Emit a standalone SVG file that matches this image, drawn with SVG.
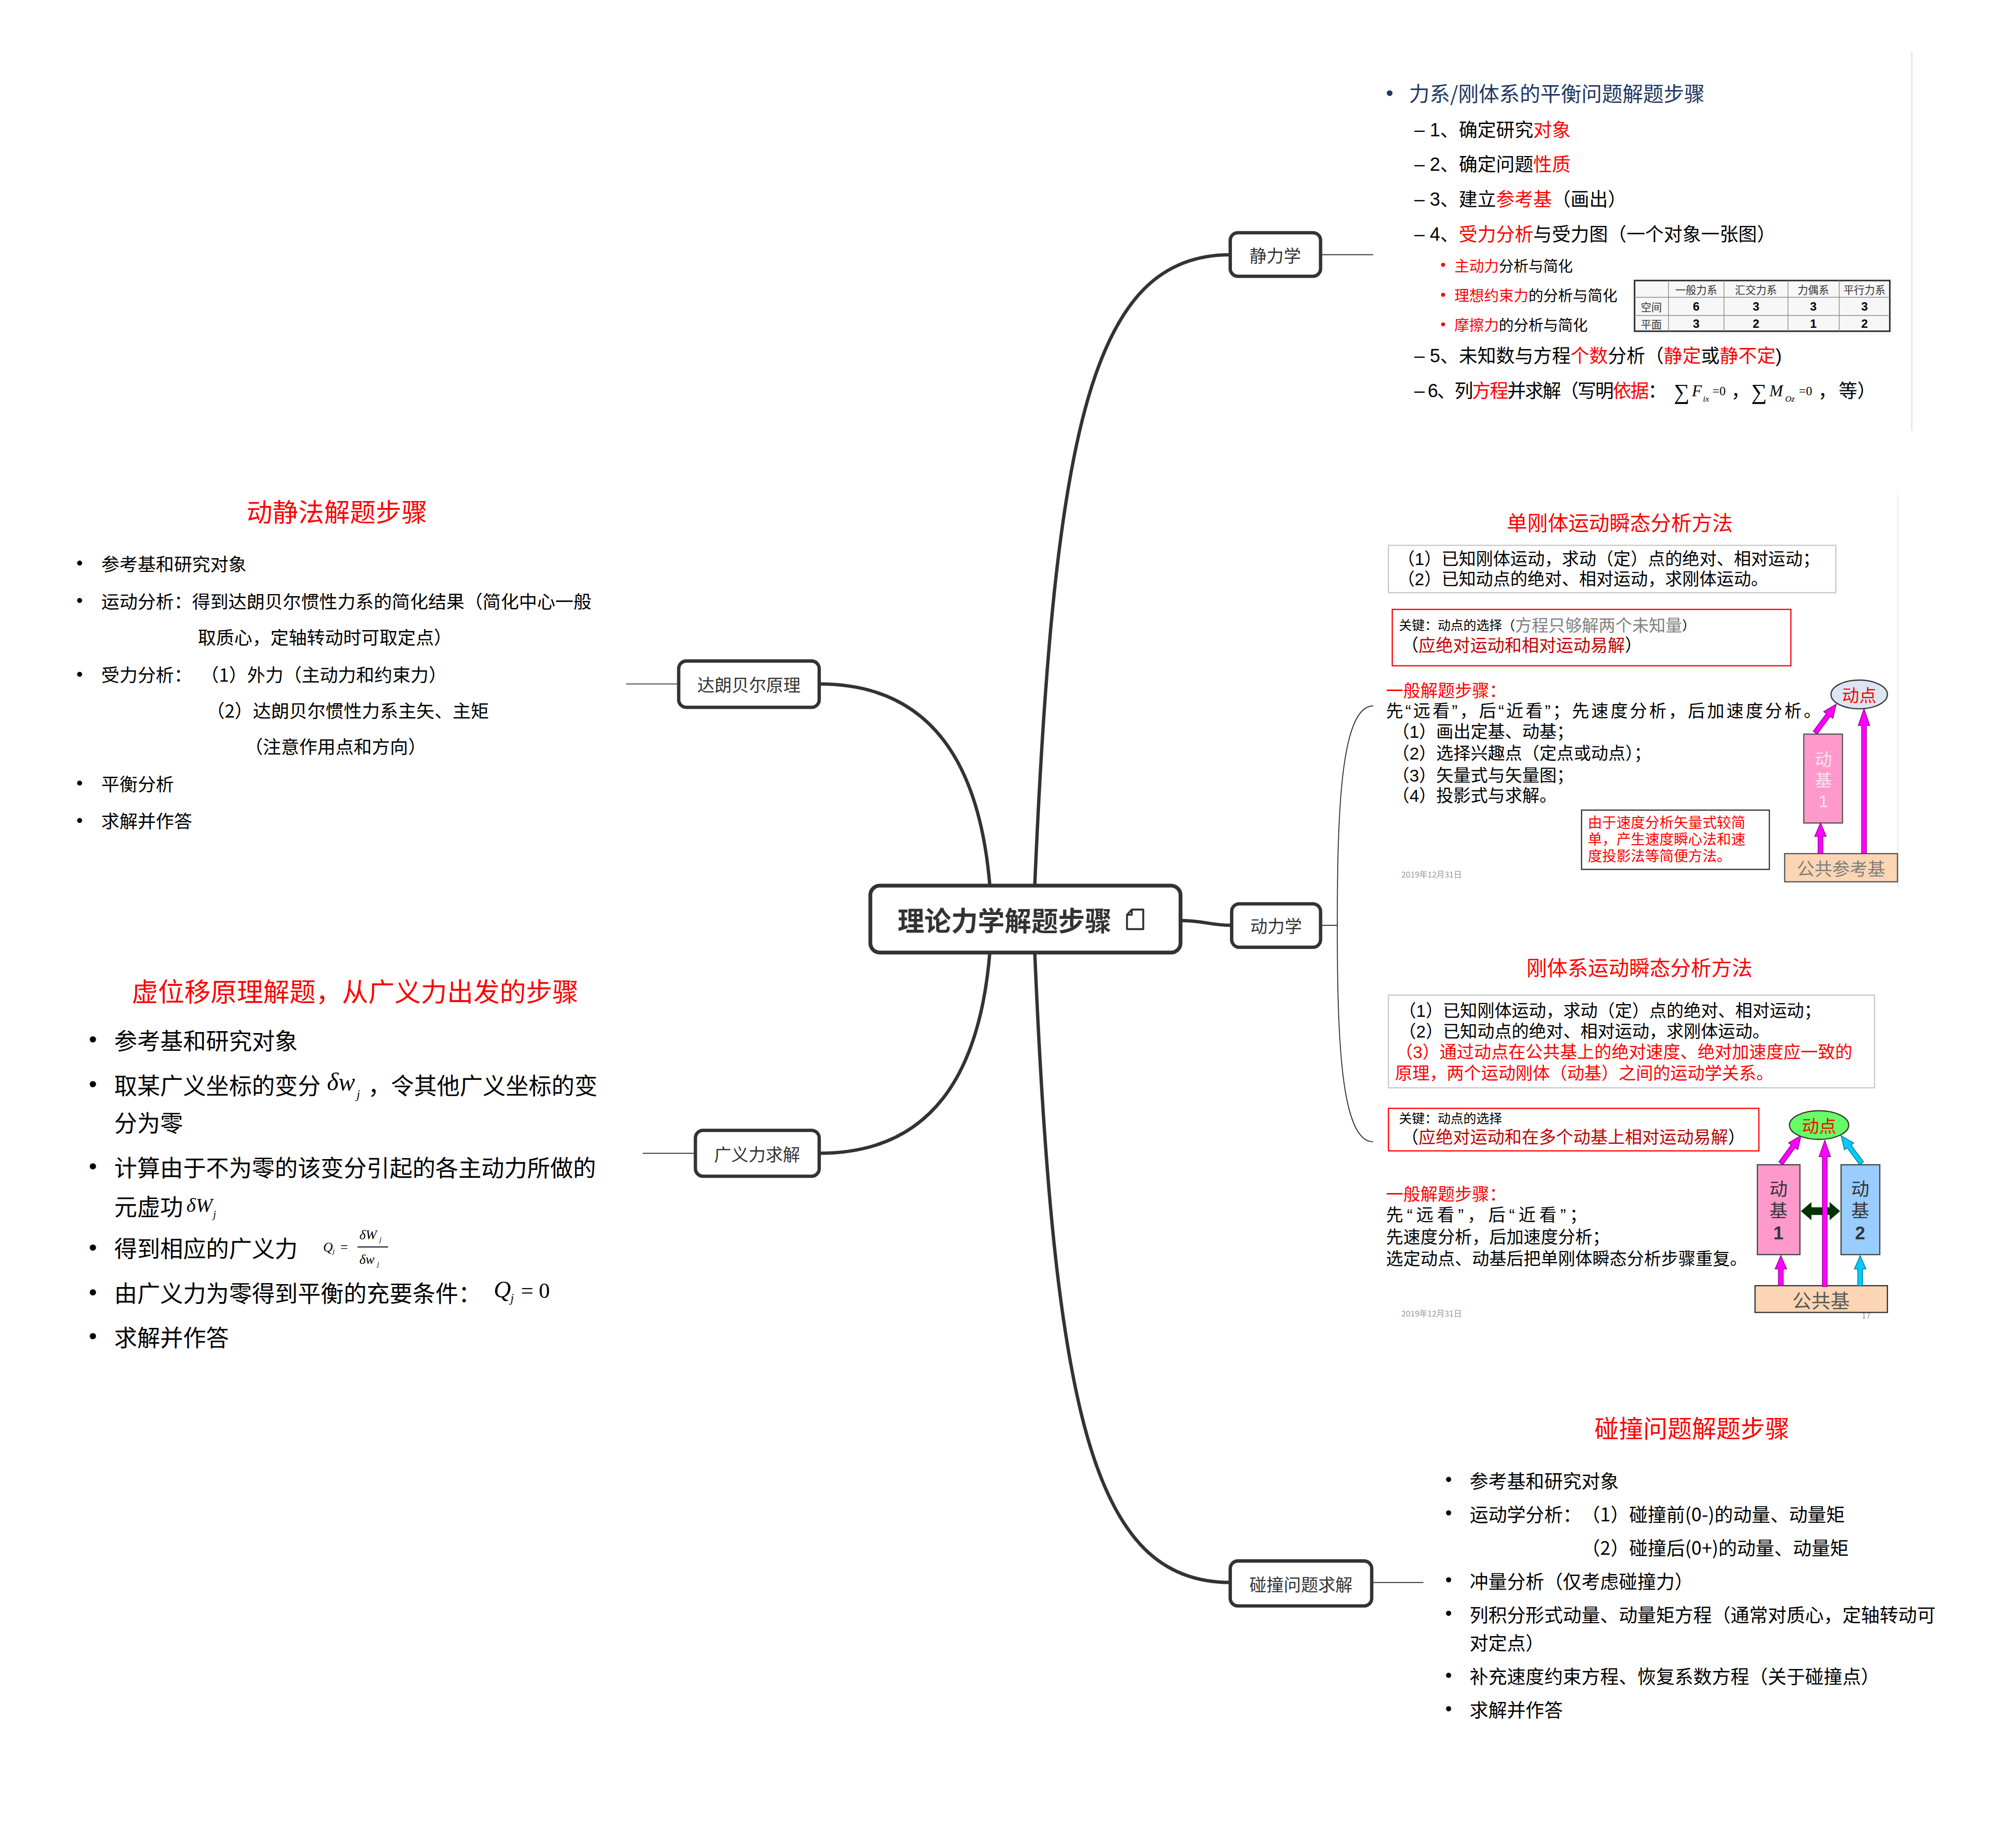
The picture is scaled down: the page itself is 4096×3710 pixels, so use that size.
<svg xmlns="http://www.w3.org/2000/svg" width="4096" height="3710" viewBox="0 0 4096 3710">
<defs>
<style>
.t{font-family:"Noto Sans CJK SC","Noto Sans",sans-serif;dominant-baseline:central;fill:#000}
.d{font-family:"Liberation Sans","Noto Sans CJK SC",sans-serif;dominant-baseline:central;fill:#000}
.bl{font-family:"Liberation Sans",sans-serif;dominant-baseline:central;fill:#000}
.m{font-family:"Liberation Serif",serif;font-style:italic;dominant-baseline:central;fill:#000}
.mu{font-family:"Liberation Serif",serif;dominant-baseline:central;fill:#000}
.r{fill:#ff0000}
.dr{fill:#c00000}
.g{fill:#808080}
.nb rect{fill:#fff;stroke:#333;stroke-width:7}
.nt{font-family:"Noto Sans CJK SC","Noto Sans",sans-serif;dominant-baseline:central;font-size:36px;fill:#333;text-anchor:middle}
.conn{fill:none;stroke:#333;stroke-width:7;stroke-linecap:round}
.thin{fill:none;stroke:#333;stroke-width:2}
.mag{fill:#ff00ff;stroke:#8b008b;stroke-width:1.5}
.cy{fill:#00ccff;stroke:#00708f;stroke-width:1.5}
</style>
</defs>
<rect width="4096" height="3710" fill="#fff"/>
<g transform="scale(0.97107)">
<g id="connectors">
<path class="conn" d="M2165,1853 C2206,888 2287,533 2574,533"/>
<path class="conn" d="M2165,1993 C2206,2958 2287,3311 2574,3311"/>
<path class="conn" d="M2071,1853 C2050,1600 1950,1431 1714,1431"/>
<path class="conn" d="M2071,1993 C2050,2246 1950,2413 1714,2413"/>
<path class="conn" d="M2470,1926 C2520,1926 2530,1936 2577,1936"/>
<path class="thin" d="M2763,533 L2873,533"/>
<path class="thin" d="M2763,1936 L2798,1936 C2798,1700 2805,1477 2873,1477"/>
<path class="thin" d="M2798,1936 C2798,2170 2805,2389 2873,2389"/>
<path class="thin" d="M2870,3311 L2978,3311"/>
<path class="thin" d="M1420,1431 L1310,1431"/>
<path class="thin" d="M1455,2413 L1345,2413"/>
</g>
<g id="central" class="nb">
<rect x="1821" y="1853" width="649" height="140" rx="20" style="stroke-width:8"/>
<text class="t" x="1878" y="1923" style="font-size:56px;font-weight:bold;fill:#333">理论力学解题步骤</text>
<path d="M2368,1903 L2392,1903 L2392,1944 L2358,1944 L2358,1914 Z M2358,1914 L2368,1914 L2368,1903" fill="none" stroke="#333" stroke-width="4" stroke-linejoin="round"/>
</g>
<g id="n-static" class="nb"><rect x="2574" y="487" width="189" height="91" rx="16"/><text class="nt" x="2668" y="533">静力学</text></g>
<g id="n-dynamic" class="nb"><rect x="2577" y="1891" width="186" height="91" rx="16"/><text class="nt" x="2670" y="1936">动力学</text></g>
<g id="n-impact" class="nb"><rect x="2574" y="3266" width="296" height="94" rx="16"/><text class="nt" x="2722" y="3313">碰撞问题求解</text></g>
<g id="n-dalembert" class="nb"><rect x="1420" y="1383" width="294" height="97" rx="16"/><text class="nt" x="1567" y="1431">达朗贝尔原理</text></g>
<g id="n-genforce" class="nb"><rect x="1455" y="2365" width="259" height="96" rx="16"/><text class="nt" x="1584" y="2413">广义力求解</text></g>

<g id="static-content">
<line x1="4000" y1="108" x2="4000" y2="901" stroke="#e6e6e6" stroke-width="3"/>
<text class="bl" x="2900" y="194" style="font-size:43px;fill:#1f3864">•</text>
<text class="t" x="2948" y="194" style="font-size:43px;fill:#1f3864">力系/刚体系的平衡问题解题步骤</text>
<g style="font-size:39px">
<text class="d" x="2959" y="272">– 1、确定研究<tspan class="r">对象</tspan></text>
<text class="d" x="2959" y="344">– 2、确定问题<tspan class="r">性质</tspan></text>
<text class="d" x="2959" y="417">– 3、建立<tspan class="r">参考基</tspan>（画出）</text>
<text class="d" x="2959" y="490">– 4、<tspan class="r">受力分析</tspan>与受力图（一个对象一张图）</text>
<text class="d" x="2959" y="745">– 5、未知数与方程<tspan class="r">个数</tspan>分析（<tspan class="r">静定</tspan>或<tspan class="r">静不定</tspan>)</text>
<text class="d" x="2959" y="818" textLength="528" lengthAdjust="spacing">– 6、列<tspan class="r">方程</tspan>并求解（写明<tspan class="r">依据</tspan>：</text>
</g>
<g style="font-size:31px">
<text class="bl r" x="3014" y="554">•</text><text class="t" x="3043" y="554"><tspan class="r">主动力</tspan>分析与简化</text>
<text class="bl r" x="3014" y="616">•</text><text class="t" x="3043" y="616"><tspan class="r">理想约束力</tspan>的分析与简化</text>
<text class="bl r" x="3014" y="678">•</text><text class="t" x="3043" y="678"><tspan class="r">摩擦力</tspan>的分析与简化</text>
</g>
<text class="mu" x="3502" y="820" style="font-size:46px">∑</text>
<text class="m" x="3540" y="818" style="font-size:34px">F</text>
<text class="m" x="3563" y="834" style="font-size:18px">ix</text>
<text class="mu" x="3583" y="818" style="font-size:26px">=0</text>
<text class="d" x="3622" y="818" style="font-size:39px">，</text>
<text class="mu" x="3664" y="820" style="font-size:46px">∑</text>
<text class="m" x="3702" y="818" style="font-size:34px">M</text>
<text class="m" x="3735" y="834" style="font-size:18px">Oz</text>
<text class="mu" x="3764" y="818" style="font-size:26px">=0</text>
<text class="d" x="3804" y="818" style="font-size:39px">，</text>
<text class="d" x="3847" y="818" style="font-size:39px">等）</text>
<g id="table">
<rect x="3414" y="581" width="546" height="119" fill="#f7f7f7"/>
<rect x="3420" y="587" width="534" height="106" fill="#f7f7f7" stroke="#222" stroke-width="3"/>
<g stroke="#888" stroke-width="1.5">
<line x1="3491" y1="587" x2="3491" y2="693"/><line x1="3607" y1="587" x2="3607" y2="693"/>
<line x1="3741" y1="587" x2="3741" y2="693"/><line x1="3848" y1="587" x2="3848" y2="693"/>
<line x1="3420" y1="622" x2="3954" y2="622"/><line x1="3420" y1="660" x2="3954" y2="660"/>
</g>
<g style="font-size:22px;text-anchor:middle">
<text class="t" x="3549" y="605" style="fill:#333">一般力系</text>
<text class="t" x="3674" y="605" style="fill:#333">汇交力系</text>
<text class="t" x="3794" y="605" style="fill:#333">力偶系</text>
<text class="t" x="3901" y="605" style="fill:#333">平行力系</text>
<text class="t" x="3455" y="641" style="fill:#333">空间</text>
<text class="t" x="3455" y="677" style="fill:#333">平面</text>
</g>
<g style="font-family:'Liberation Sans',sans-serif;font-weight:bold;font-size:25px;text-anchor:middle;dominant-baseline:central">
<text x="3549" y="641">6</text><text x="3674" y="641">3</text><text x="3794" y="641">3</text><text x="3901" y="641">3</text>
<text x="3549" y="677">3</text><text x="3674" y="677">2</text><text x="3794" y="677">1</text><text x="3901" y="677">2</text>
</g>
</g>
</g>

<g id="dalembert-content" style="font-size:38px">
<text class="t r" x="705" y="1068" style="font-size:54px;text-anchor:middle">动静法解题步骤</text>
<text class="bl" x="160" y="1178">•</text><text class="t" x="212" y="1178">参考基和研究对象</text>
<text class="bl" x="160" y="1256">•</text><text class="t" x="212" y="1256">运动分析：得到达朗贝尔惯性力系的简化结果（简化中心一般</text>
<text class="t" x="414" y="1332">取质心，定轴转动时可取定点）</text>
<text class="bl" x="160" y="1410">•</text><text class="t" x="212" y="1410">受力分析：<tspan x="420">（1）外力（主动力和约束力）</tspan></text>
<text class="t" x="432" y="1485">（2）达朗贝尔惯性力系主矢、主矩</text>
<text class="t" x="512" y="1560">（注意作用点和方向）</text>
<text class="bl" x="160" y="1638">•</text><text class="t" x="212" y="1638">平衡分析</text>
<text class="bl" x="160" y="1716">•</text><text class="t" x="212" y="1716">求解并作答</text>
</g>

<g id="genforce-content" style="font-size:48px">
<text class="t r" x="743" y="2071" style="font-size:55px;text-anchor:middle">虚位移原理解题，从广义力出发的步骤</text>
<text class="bl" x="186" y="2174">•</text><text class="t" x="239" y="2174">参考基和研究对象</text>
<text class="bl" x="186" y="2268">•</text><text class="t" x="239" y="2268">取某广义坐标的变分</text>
<text class="m" x="684" y="2264" style="font-size:52px">δw</text>
<text class="m" x="746" y="2290" style="font-size:26px">j</text>
<text class="t" x="770" y="2268">，令其他广义坐标的变</text>
<text class="t" x="239" y="2346">分为零</text>
<text class="bl" x="186" y="2440">•</text><text class="t" x="239" y="2440">计算由于不为零的该变分引起的各主动力所做的</text>
<text class="t" x="239" y="2521">元虚功</text>
<text class="m" x="390" y="2521" style="font-size:42px">δW</text>
<text class="m" x="446" y="2540" style="font-size:22px">j</text>
<text class="bl" x="186" y="2609">•</text><text class="t" x="239" y="2609">得到相应的广义力</text>
<text class="m" x="676" y="2609" style="font-size:28px">Q</text>
<text class="m" x="696" y="2618" style="font-size:15px">j</text>
<text class="mu" x="712" y="2609" style="font-size:28px">=</text>
<text class="m" x="752" y="2584" style="font-size:28px">δW</text>
<text class="m" x="794" y="2593" style="font-size:15px">j</text>
<line x1="748" y1="2609" x2="812" y2="2609" stroke="#000" stroke-width="2"/>
<text class="m" x="752" y="2635" style="font-size:28px">δw</text>
<text class="m" x="789" y="2645" style="font-size:15px">j</text>
<text class="bl" x="186" y="2703">•</text><text class="t" x="239" y="2703">由广义力为零得到平衡的充要条件：</text>
<text class="m" x="1033" y="2698" style="font-size:50px">Q</text>
<text class="m" x="1068" y="2716" style="font-size:26px">j</text>
<text class="mu" x="1090" y="2700" style="font-size:46px">= 0</text>
<text class="bl" x="186" y="2795">•</text><text class="t" x="239" y="2795">求解并作答</text>
</g>

<g id="single-rigid" style="font-size:36px">
<line x1="3971" y1="1036" x2="3971" y2="1856" stroke="#ececec" stroke-width="3"/>
<text class="t r" x="3389" y="1092" style="font-size:43px;text-anchor:middle">单刚体运动瞬态分析方法</text>
<rect x="2905" y="1141" width="936" height="99" fill="#fff" stroke="#c8c8c8" stroke-width="2.5"/>
<text class="d" x="2924" y="1169">（1）已知刚体运动，求动（定）点的绝对、相对运动；</text>
<text class="d" x="2924" y="1212">（2）已知动点的绝对、相对运动，求刚体运动。</text>
<rect x="2913" y="1275" width="834" height="118" fill="#fff" stroke="#ff0000" stroke-width="2.5"/>
<text class="d" x="2927" y="1309" style="font-size:27px">关键：动点的选择（<tspan class="g" style="font-size:35px">方程只够解两个未知量</tspan>）</text>
<text class="d" x="2932" y="1350">（<tspan class="dr">应绝对运动和相对运动易解</tspan>）</text>
<text class="d r" x="2900" y="1445">一般解题步骤：</text>
<text class="d" x="2900" y="1488" textLength="910" lengthAdjust="spacing">先“远看”，后“近看”；先速度分析，后加速度分析。</text>
<text class="d" x="2913" y="1531">（1）画出定基、动基；</text>
<text class="d" x="2913" y="1576">（2）选择兴趣点（定点或动点）；</text>
<text class="d" x="2913" y="1622">（3）矢量式与矢量图；</text>
<text class="d" x="2913" y="1665">（4）投影式与求解。</text>
<rect x="3309" y="1695" width="393" height="124" fill="#fff" stroke="#333" stroke-width="2.5"/>
<g style="font-size:30px">
<text class="d r" x="3322" y="1722">由于速度分析矢量式较简</text>
<text class="d r" x="3322" y="1757">单，产生速度瞬心法和速</text>
<text class="d r" x="3322" y="1792">度投影法等简便方法。</text>
</g>
<text class="t" x="2932" y="1829" style="font-size:17px;fill:#999">2019年12月31日</text>
<rect x="3734" y="1786" width="236" height="59" fill="#fcd5b4" stroke="#555" stroke-width="2.5"/>
<text class="t" x="3852" y="1816" style="font-size:37px;fill:#7f7f7f;text-anchor:middle">公共参考基</text>
<rect x="3774" y="1536" width="81" height="186" fill="#ff99cc" stroke="#555" stroke-width="2.5"/>
<g style="font-size:36px;text-anchor:middle">
<text class="d" x="3815" y="1590" style="fill:#fbe4ef">动</text>
<text class="d" x="3815" y="1633" style="fill:#fbe4ef">基</text>
<text class="d" x="3815" y="1676" style="fill:#fbe4ef">1</text>
</g>
<polygon class="mag" points="3804,1786 3804,1750 3797,1750 3809,1722 3821,1750 3814,1750 3814,1786"/>
<polygon class="mag" points="3895,1786 3895,1518 3888,1518 3900,1483 3912,1518 3905,1518 3905,1786"/>
<polygon class="mag" transform="translate(3798,1533) rotate(-53.6)" points="0,-5 46,-5 46,-12 74,0 46,12 46,5 0,5"/>
<ellipse cx="3890" cy="1453" rx="59" ry="30" fill="#dce6f2" stroke="#333" stroke-width="2.5"/>
<text class="t r" x="3890" y="1453" style="text-anchor:middle">动点</text>
</g>

<g id="rigid-system" style="font-size:36px">
<text class="t r" x="3430" y="2023" style="font-size:43px;text-anchor:middle">刚体系运动瞬态分析方法</text>
<rect x="2905" y="2082" width="1017" height="194" fill="#fff" stroke="#c8c8c8" stroke-width="2.5"/>
<text class="d" x="2927" y="2115">（1）已知刚体运动，求动（定）点的绝对、相对运动；</text>
<text class="d" x="2927" y="2158">（2）已知动点的绝对、相对运动，求刚体运动。</text>
<text class="d r" x="2920" y="2201">（3）通过动点在公共基上的绝对速度、绝对加速度应一致的</text>
<text class="d r" x="2919" y="2245">原理，两个运动刚体（动基）之间的运动学关系。</text>
<rect x="2905" y="2319" width="775" height="89" fill="#fff" stroke="#ff0000" stroke-width="2.5"/>
<text class="d" x="2927" y="2341" style="font-size:27px">关键：动点的选择</text>
<text class="d" x="2932" y="2379">（<tspan class="dr">应绝对运动和在多个动基上相对运动易解</tspan>）</text>
<text class="d r" x="2900" y="2499">一般解题步骤：</text>
<text class="d" x="2900" y="2542" textLength="420" lengthAdjust="spacing">先“远看”，后“近看”；</text>
<text class="d" x="2900" y="2588">先速度分析，后加速度分析；</text>
<text class="d" x="2900" y="2634">选定动点、动基后把单刚体瞬态分析步骤重复。</text>
<text class="t" x="2932" y="2747" style="font-size:17px;fill:#999">2019年12月31日</text>
<text class="t" x="3895" y="2752" style="font-size:17px;fill:#999">17</text>
<rect x="3672" y="2690" width="277" height="56" fill="#fcd5b4" stroke="#333" stroke-width="2.5"/>
<text class="t" x="3810" y="2719" style="font-size:40px;fill:#595959;text-anchor:middle">公共基</text>
<rect x="3677" y="2437" width="89" height="188" fill="#ff99cc" stroke="#444" stroke-width="2.5"/>
<rect x="3852" y="2437" width="81" height="188" fill="#99ccff" stroke="#444" stroke-width="2.5"/>
<g style="font-size:38px;text-anchor:middle">
<text class="d" x="3721" y="2488" style="fill:#333">动</text>
<text class="d" x="3721" y="2534" style="fill:#333">基</text>
<text class="d" x="3721" y="2580" style="fill:#333;font-weight:bold">1</text>
<text class="d" x="3892" y="2488" style="fill:#333">动</text>
<text class="d" x="3892" y="2534" style="fill:#333">基</text>
<text class="d" x="3892" y="2580" style="fill:#333;font-weight:bold">2</text>
</g>
<polygon points="3768,2534 3790,2515 3790,2526 3828,2526 3828,2515 3850,2534 3828,2553 3828,2542 3790,2542 3790,2553" fill="#003300"/>
<polygon class="mag" points="3721,2690 3721,2655 3714,2655 3726,2627 3738,2655 3731,2655 3731,2690"/>
<polygon class="cy" points="3887,2690 3887,2655 3880,2655 3892,2627 3904,2655 3897,2655 3897,2690"/>
<polygon class="mag" points="3813,2692 3813,2420 3806,2420 3818,2386 3830,2420 3823,2420 3823,2692"/>
<polygon class="mag" transform="translate(3726,2434) rotate(-54.1)" points="0,-5 44,-5 44,-12 72,0 44,12 44,5 0,5"/>
<polygon class="cy" transform="translate(3895,2434) rotate(-126.6)" points="0,-5 44,-5 44,-12 72,0 44,12 44,5 0,5"/>
<ellipse cx="3806" cy="2354" rx="62" ry="30" fill="#66ff66" stroke="#333" stroke-width="2.5"/>
<text class="t r" x="3806" y="2354" style="text-anchor:middle">动点</text>
</g>

<g id="impact-content" style="font-size:39px">
<text class="t r" x="3540" y="2986" style="font-size:51px;text-anchor:middle">碰撞问题解题步骤</text>
<text class="bl" x="3024" y="3096">•</text><text class="t" x="3075" y="3096">参考基和研究对象</text>
<text class="bl" x="3024" y="3166">•</text><text class="t" x="3075" y="3166">运动学分析：<tspan x="3309">（1）碰撞前(0-)的动量、动量矩</tspan></text>
<text class="t" x="3309" y="3236">（2）碰撞后(0+)的动量、动量矩</text>
<text class="bl" x="3024" y="3306">•</text><text class="t" x="3075" y="3306">冲量分析（仅考虑碰撞力）</text>
<text class="bl" x="3024" y="3376">•</text><text class="t" x="3075" y="3376">列积分形式动量、动量矩方程（通常对质心，定轴转动可</text>
<text class="t" x="3075" y="3435">对定点）</text>
<text class="bl" x="3024" y="3505">•</text><text class="t" x="3075" y="3505">补充速度约束方程、恢复系数方程（关于碰撞点）</text>
<text class="bl" x="3024" y="3575">•</text><text class="t" x="3075" y="3575">求解并作答</text>
</g>
</g>
</svg>
